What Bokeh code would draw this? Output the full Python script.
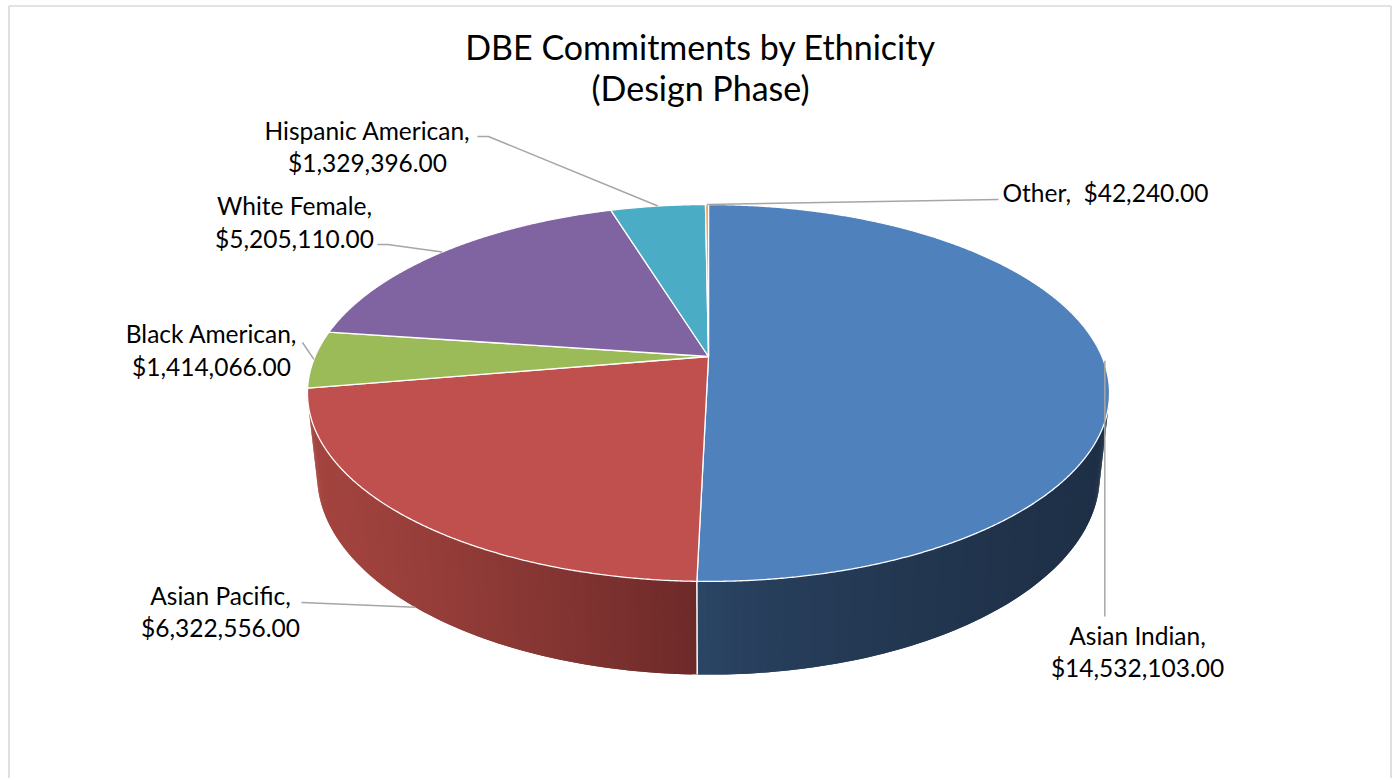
import numpy as np
from bokeh.plotting import figure
from bokeh.models import Range1d, ColumnDataSource
from bokeh.embed import file_html
from bokeh.resources import INLINE
from bokeh.core.properties import value

# ---------------- data ----------------
title_lines = ["DBE Commitments by Ethnicity", "(Design Phase)"]
categories = ["Asian Indian", "Asian Pacific", "Black American",
              "White Female", "Hispanic American", "Other"]
amounts = [14532103.00, 6322556.00, 1414066.00, 5205110.00, 1329396.00, 42240.00]
top_colors = ["#4F81BD", "#C0504D", "#9BBB59", "#8064A2", "#4BACC6", "#F79646"]
side_light = ["#2C4767", "#A4443F", "#7A9446", "#654F82", "#3A899E", "#C47636"]
side_dark = ["#1E2F46", "#6D2A29", "#4F622E", "#443656", "#275C6A", "#844F24"]

FONT = "Lato"
W, HGT = 1398, 778

# ---------------- projection (3D tilted pie with perspective) ----------------
F = 1804.0
D = 4.585
TH = np.radians(27.45)
CX, CY = 708.0, 356.0
H = 0.237
cth, sth = np.cos(TH), np.sin(TH)


def proj(alpha_deg, Y):
    a = np.radians(np.asarray(alpha_deg, dtype=float))
    X = np.sin(a)
    Z = -np.cos(a)
    yc = Y * cth - Z * sth
    depth = D - (Y * sth + Z * cth)
    return CX + F * X / depth, CY - F * yc / depth


def hex2rgb(h):
    h = h.lstrip("#")
    return np.array([int(h[i:i + 2], 16) for i in (0, 2, 4)], dtype=float)


def mix(c1, c2, t):
    r = hex2rgb(c1) * (1 - t) + hex2rgb(c2) * t
    return "#%02x%02x%02x" % tuple(int(round(v)) for v in r)


total = float(sum(amounts))
fracs = [v / total for v in amounts]
ends = np.cumsum(fracs) * 360.0
starts = np.concatenate([[0.0], ends[:-1]])

# visible range of the outer wall
zlim = 1.0 / (D * cth)
vis0 = np.degrees(np.arccos(-zlim))          # ~104 deg
vis1 = 360.0 - vis0                           # ~256 deg

# ---------------- figure ----------------
p = figure(width=W, height=HGT, x_range=Range1d(0, W), y_range=Range1d(HGT, 0),
           output_backend="svg", toolbar_location=None, tools="",
           x_axis_location=None, y_axis_location=None, min_border=0)
p.grid.visible = False
p.outline_line_color = None
p.background_fill_color = "white"
p.border_fill_color = "white"

# chart border
p.line([8.5, 8.5, 1390.5, 1390.5], [HGT + 5, 5.5, 5.5, HGT + 5],
       line_color="#D9D9D9", line_width=1.6)

# ---------------- walls ----------------
wx, wy, wc = [], [], []
for i in range(len(categories)):
    a0 = max(starts[i], vis0)
    a1 = min(ends[i], vis1)
    if a1 <= a0:
        continue
    n = max(2, int((a1 - a0) / 0.6))
    angs = np.linspace(a0, a1, n + 1)
    tx, ty = proj(angs, 0.0)
    bx, by = proj(angs, -H)
    xmin, xmax = min(tx.min(), bx.min()), max(tx.max(), bx.max())
    for k in range(n):
        k2 = min(n, k + 2)
        xm = 0.5 * (tx[k] + tx[k + 1])
        t = (xm - xmin) / max(1e-6, (xmax - xmin))
        t = t ** 0.6 if i == 0 else t ** 1.15
        wx.append([tx[k], tx[k2], bx[k2], bx[k]])
        wy.append([ty[k], ty[k2], by[k2], by[k]])
        wc.append(mix(side_light[i], side_dark[i], t))
p.patches(wx, wy, fill_color=wc, line_color=None)

# white seams between visible wall pieces
seam_x, seam_y = [], []
for a in starts:
    if vis0 < a < vis1:
        x0, y0 = proj(a, 0.0)
        x1, y1 = proj(a, -H)
        seam_x.append([float(x0), float(x1)])
        seam_y.append([float(y0), float(y1)])
p.multi_line(seam_x, seam_y, line_color="white", line_width=1.5)

# ---------------- top face ----------------
sx, sy = [], []
for i in range(len(categories)):
    n = max(2, int((ends[i] - starts[i]) / 0.25))
    angs = np.linspace(starts[i], ends[i], n + 1)
    ax, ay = proj(angs, 0.0)
    sx.append([CX] + list(ax))
    sy.append([CY] + list(ay))
p.patches(sx, sy, fill_color=top_colors, line_color="white", line_width=1.3)

# ---------------- labels ----------------
def money(v):
    return "${:,.2f}".format(v)

mids = 0.5 * (starts + ends)
# layout: (center x, line1 y, line2 y, leader label-side points, anchor on wall bottom?)
layout = {
    "Asian Indian": (1137, 635, 667, [], False),
    "Asian Pacific": (220, 595, 627, [(301, 602)], True),
    "Black American": (211, 333, 366, [(302, 342)], False),
    "White Female": (294, 205, 238, [(377, 244), (387, 244)], False),
    "Hispanic American": (367, 130, 162, [(477, 136), (488, 136)], False),
}

tx_, ty_, tt_, ta_ = [], [], [], []
lx, ly = [], []
for i, name in enumerate(categories):
    if name == "Other":
        ax, ay = proj(mids[i], 0.0)
        tx_.append(1002); ty_.append(192)
        tt_.append(f"{name},\u00a0 {money(amounts[i])}"); ta_.append("left")
        lx.append([998, float(ax)]); ly.append([199, float(ay)])
        continue
    cxl, y1, y2, pts, bottom = layout[name]
    tx_ += [cxl, cxl]; ty_ += [y1, y2]
    tt_ += [f"{name},", money(amounts[i])]; ta_ += ["center", "center"]
    ax, ay = proj(mids[i], -H if bottom else 0.0)
    if name == "Asian Indian":
        lx.append([float(ax) + 2, float(ax) + 2]); ly.append([float(ay) + 2, 616])
    else:
        lx.append([q[0] for q in pts] + [float(ax)])
        ly.append([q[1] for q in pts] + [float(ay)])

p.multi_line(lx, ly, line_color="#A6A6A6", line_width=1.5)

src = ColumnDataSource(dict(x=tx_, y=ty_, t=tt_, a=ta_))
p.text("x", "y", text="t", source=src, text_align="a", text_baseline="middle",
       text_font=value(FONT), text_font_size="24.5px", text_color="#000000")

# title
p.text([700, 700], [46, 87], text=title_lines, text_align="center", text_baseline="middle",
       text_font=value(FONT), text_font_size="34px", text_color="#000000")

open("out.html", "w").write(file_html(p, INLINE))
